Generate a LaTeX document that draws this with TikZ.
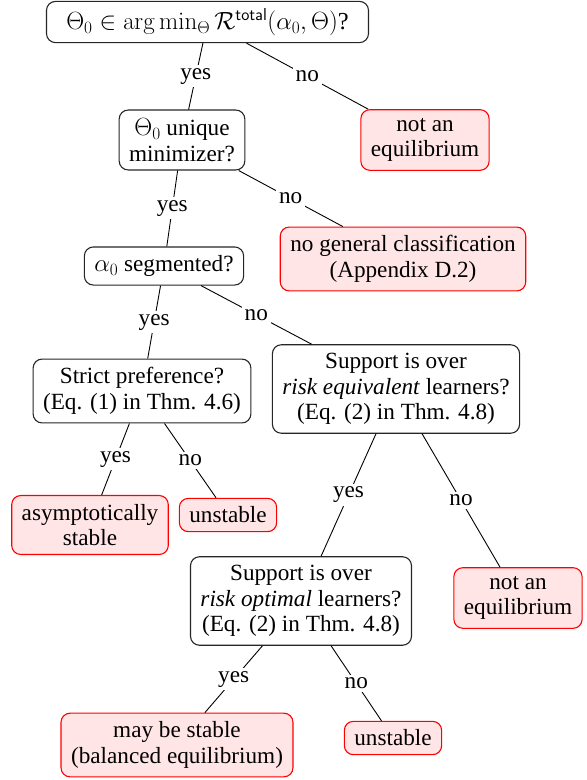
\documentclass[tikz,border=0pt]{standalone}
\usepackage[no-math]{fontspec}
\setmainfont{Liberation Serif}
\begin{document}
\begin{tikzpicture}[x=1pt,y=-1pt,
  every node/.style={font=\fontsize{23.2}{25.6}\selectfont},
  qbox/.style={draw=black!85, line width=1.1pt, fill=white, rounded corners=9pt, align=center, inner xsep=10pt, inner ysep=8.5pt},
  leaf/.style={draw=red, line width=1.1pt, fill=red!10, rounded corners=9pt, align=center, inner xsep=10pt, inner ysep=8.5pt},
  lbl/.style={fill=white, inner sep=3pt},
  edge/.style={draw=black, line width=0.9pt}]
\useasboundingbox (0,0) rectangle (587,780);
\node[qbox, inner ysep=7pt, minimum width=322pt] (q1) at (207.5,22) {\fontsize{24.4}{26}\selectfont$\Theta_0\in\arg\min_\Theta\mathcal{R}^{\mathsf{total}}(\alpha_0,\Theta)$?};
\node[leaf] (l1) at (425,140) {not an\\equilibrium};
\node[qbox] (q2) at (182,140) {$\Theta_0$ unique\\minimizer?};
\node[leaf] (l2) at (403,259) {no general classification\\(Appendix D.2)};
\node[qbox] (q3) at (164,266) {$\alpha_0$ segmented?};
\node[qbox] (q4) at (142,391) {Strict preference?\\(Eq. (1) in Thm. 4.6)};
\node[qbox] (q5) at (396,389) {Support is over\\\textit{risk equivalent} learners?\\(Eq. (2) in Thm. 4.8)};
\node[leaf] (l3) at (90,525) {asymptotically\\stable};
\node[leaf] (l4) at (228,515) {unstable};
\node[qbox] (q6) at (301,601) {Support is over\\\textit{risk optimal} learners?\\(Eq. (2) in Thm. 4.8)};
\node[leaf] (l5) at (518,598) {not an\\equilibrium};
\node[leaf] (l6) at (177,745) {may be stable\\(balanced equilibrium)};
\node[leaf] (l7) at (393,738) {unstable};
\draw[edge] (q1) -- node[lbl] {yes} (q2);
\draw[edge] (q1) -- node[lbl] {no} (l1);
\draw[edge] (q2) -- node[lbl] {yes} (q3);
\draw[edge] (q2) -- node[lbl] {no} (l2);
\draw[edge] (q3) -- node[lbl] {yes} (q4);
\draw[edge] (q3) -- node[lbl] {no} (q5);
\draw[edge] (q4) -- node[lbl] {yes} (l3);
\draw[edge] (q4) -- node[lbl] {no} (l4);
\draw[edge] (q5) -- node[lbl] {yes} (q6);
\draw[edge] (q5) -- node[lbl] {no} (l5);
\draw[edge] (q6) -- node[lbl] {yes} (l6);
\draw[edge] (q6) -- node[lbl] {no} (l7);
\end{tikzpicture}
\end{document}
